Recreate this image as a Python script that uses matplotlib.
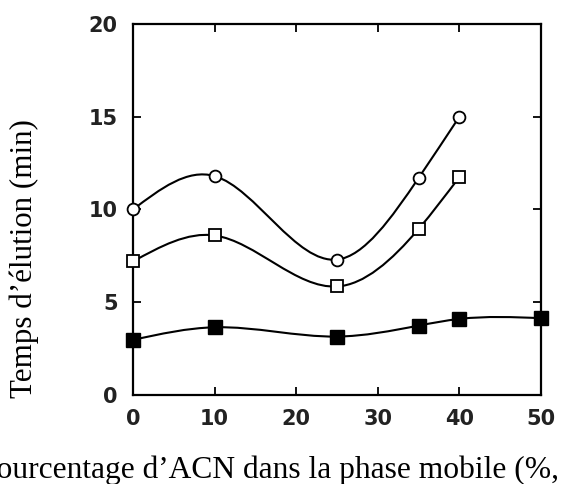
import numpy as np
import matplotlib
matplotlib.use("Agg")
import matplotlib.pyplot as plt
from matplotlib.path import Path
from matplotlib.patches import PathPatch

# pourcentage d'ACN (%)
acn_ouvert = [0, 10, 25, 35, 40]
acn_plein = [0, 10, 25, 35, 40, 50]

# temps d'élution (min)
t_cercle = [10.0, 11.8, 7.3, 11.7, 15.0]
t_carre = [7.2, 8.6, 5.85, 8.95, 11.75]
t_carre_plein = [2.97, 3.65, 3.15, 3.74, 4.1, 4.14]

xticks = [0, 10, 20, 30, 40, 50]
yticks = [0, 5, 10, 15, 20]


def courbe_lisse(x, y):
    # spline cubique naturelle, tracée en segments de Bézier
    x = np.asarray(x, float)
    y = np.asarray(y, float)
    n = len(x)
    h = np.diff(x)
    A = np.zeros((n, n))
    b = np.zeros(n)
    A[0, 0] = 1
    A[-1, -1] = 1
    for i in range(1, n - 1):
        A[i, i - 1] = h[i - 1]
        A[i, i] = 2 * (h[i - 1] + h[i])
        A[i, i + 1] = h[i]
        b[i] = 6 * ((y[i + 1] - y[i]) / h[i] - (y[i] - y[i - 1]) / h[i - 1])
    M = np.linalg.solve(A, b)
    m = np.zeros(n)
    for i in range(n - 1):
        m[i] = (y[i + 1] - y[i]) / h[i] - h[i] * (2 * M[i] + M[i + 1]) / 6
    m[-1] = (y[-1] - y[-2]) / h[-1] + h[-1] * (M[-2] + 2 * M[-1]) / 6
    verts = [(x[0], y[0])]
    codes = [Path.MOVETO]
    for i in range(n - 1):
        d = h[i] / 3
        verts += [(x[i] + d, y[i] + m[i] * d),
                  (x[i + 1] - d, y[i + 1] - m[i + 1] * d),
                  (x[i + 1], y[i + 1])]
        codes += [Path.CURVE4] * 3
    return Path(verts, codes)


fig = plt.figure(figsize=(5.62, 4.84), dpi=100)
ax = fig.add_axes([0.2367, 0.1839, 0.7259, 0.7665])

for x, y in [(acn_ouvert, t_cercle), (acn_ouvert, t_carre), (acn_plein, t_carre_plein)]:
    ax.add_patch(PathPatch(courbe_lisse(x, y), facecolor="none",
                           edgecolor="black", lw=1.5, zorder=2))

ax.plot(acn_ouvert, t_cercle, "o", ms=8.5, mfc="white", mec="black", mew=1.3,
        ls="none", zorder=3, clip_on=False)
ax.plot(acn_ouvert, t_carre, "s", ms=8.5, mfc="white", mec="black", mew=1.3,
        ls="none", zorder=3, clip_on=False)
ax.plot(acn_plein, t_carre_plein, "s", ms=9.5, mfc="black", mec="black", mew=1.0,
        ls="none", zorder=3, clip_on=False)

ax.set_xlim(0, 50)
ax.set_ylim(0, 20)
ax.set_xticks(xticks)
ax.set_yticks(yticks)
for s in ax.spines.values():
    s.set_linewidth(1.6)
ax.tick_params(direction="in", length=6, width=1.3, top=True, right=True,
               labelsize=15, colors="black")
ax.tick_params(axis="x", pad=10)
ax.tick_params(axis="y", pad=11)
for lab in ax.get_xticklabels() + ax.get_yticklabels():
    lab.set_fontfamily("DejaVu Sans")
    lab.set_fontweight("bold")
    lab.set_color("#222222")

fig.text(0.0427, 0.466, "Temps d’élution (min)", rotation=90, ha="center",
         va="center", fontsize=22.3, family="Liberation Serif")
fig.text(-0.037, 0.0124, "Pourcentage d’ACN dans la phase mobile (%, v/v)",
         ha="left", va="baseline", fontsize=22.7, family="Liberation Serif")

fig.savefig("out.png", dpi=100)
